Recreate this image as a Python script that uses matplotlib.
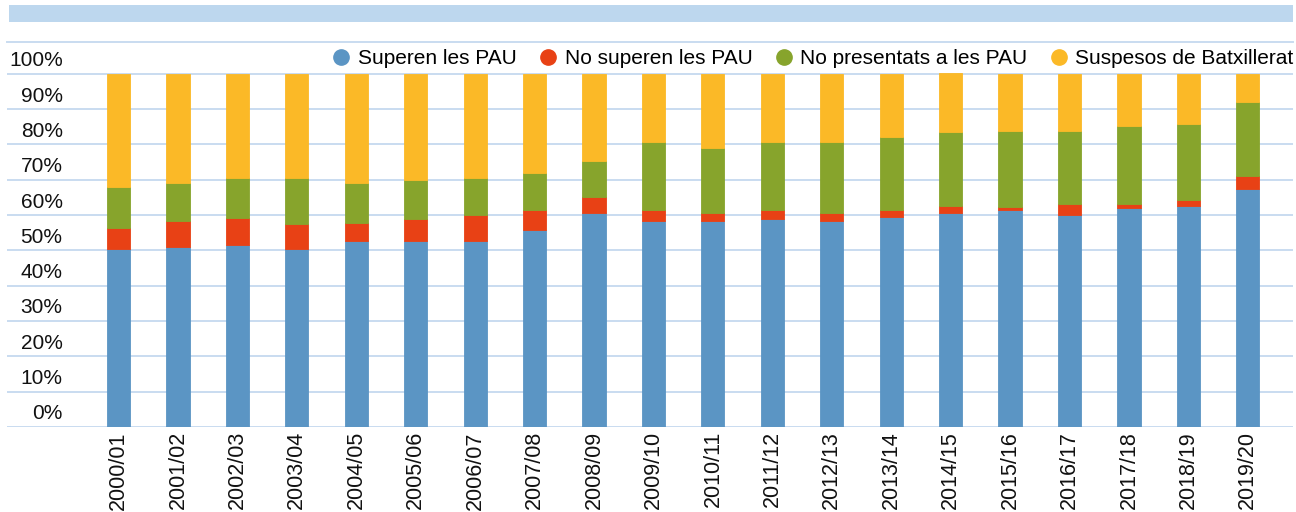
import matplotlib
matplotlib.use("Agg")
import matplotlib.pyplot as plt
from matplotlib.lines import Line2D
from matplotlib.patches import Rectangle
import numpy as np

plt.rcParams["font.family"] = ["Liberation Sans", "DejaVu Sans"]

years = [
    "2000/01", "2001/02", "2002/03", "2003/04", "2004/05",
    "2005/06", "2006/07", "2007/08", "2008/09", "2009/10",
    "2010/11", "2011/12", "2012/13", "2013/14", "2014/15",
    "2015/16", "2016/17", "2017/18", "2018/19", "2019/20",
]

series_names = [
    "Superen les PAU",
    "No superen les PAU",
    "No presentats a les PAU",
    "Suspesos de Batxillerat",
]

# percentages
superen = [50.3, 50.9, 51.5, 50.3, 52.7, 52.7, 52.7, 55.8, 60.7, 58.3,
           58.3, 58.8, 58.3, 59.5, 60.6, 61.3, 60.1, 62.0, 62.5, 67.4]
no_superen = [6.1, 7.4, 7.8, 7.3, 5.0, 6.1, 7.4, 5.5, 4.3, 3.0,
              2.3, 2.5, 2.3, 1.8, 1.9, 1.1, 3.0, 1.1, 1.9, 3.7]
no_presentats = [11.6, 10.9, 11.1, 12.8, 11.5, 11.1, 10.3, 10.5, 10.4, 19.5,
                 18.5, 19.5, 20.2, 20.9, 21.0, 21.5, 20.8, 22.1, 21.4, 20.8]
suspesos = [32.0, 30.8, 29.6, 29.6, 30.8, 30.1, 29.6, 28.2, 24.6, 19.2,
            20.9, 19.2, 19.2, 17.8, 16.6, 16.1, 16.1, 14.8, 14.2, 8.1]

colors = ["#5b95c4", "#e84115", "#87a42c", "#fbb927"]
grid_color = "#c9dcf0"

W, H = 1296, 512
fig = plt.figure(figsize=(W / 100, H / 100), dpi=100)

# plot area in pixels
left_px, right_px, top_px, bottom_px = 7, 1293, 42, 427
ax = fig.add_axes([left_px / W, 1 - bottom_px / H,
                   (right_px - left_px) / W, (bottom_px - top_px) / H])

# light blue band along the top
fig.patches.append(Rectangle((9 / W, 1 - 22 / H), (1293 - 9) / W, 17 / H,
                             transform=fig.transFigure, facecolor="#bdd7ee",
                             edgecolor="none"))

x = np.arange(len(years))
data = [superen, no_superen, no_presentats, suspesos]
bottom = np.zeros(len(years))
for vals, col in zip(data, colors):
    vals = np.array(vals) / 100
    ax.bar(x, vals, 0.39, bottom=bottom, color=col,
           edgecolor=col, linewidth=0.6, zorder=3)
    bottom += vals

ax.set_xlim(-1.876, 19.76)
ax.set_ylim(0, 1.09)

ax.set_yticks(np.arange(0, 1.01, 0.1))
ax.yaxis.grid(True, color=grid_color, linewidth=1.4, zorder=0)
ax.tick_params(axis="y", length=0, labelleft=False)
for v in range(0, 101, 10):
    ax.text(-0.94, v / 100 + 0.037, f"{v}%", ha="right", va="center",
            fontsize=15, color="#111111",
            transform=ax.transData)

ax.set_xticks(x)
ax.set_xticklabels(years, rotation=90, fontsize=15.5, color="#111111")
ax.tick_params(axis="x", length=0, pad=3)

for side in ["left", "right", "bottom"]:
    ax.spines[side].set_visible(False)
ax.spines["top"].set_color(grid_color)
ax.spines["top"].set_linewidth(1.4)

handles = [
    Line2D([], [], marker="o", linestyle="none", markersize=11,
           markerfacecolor=c, markeredgecolor=c)
    for c in colors
]
fig.legend(handles, series_names, loc="center right",
           bbox_to_anchor=(1302 / W, 1 - 59 / H), ncol=4, frameon=False,
           fontsize=15, handletextpad=0.3, columnspacing=1.0,
           borderaxespad=0, handlelength=1.0)

fig.savefig("out.png", dpi=100)
